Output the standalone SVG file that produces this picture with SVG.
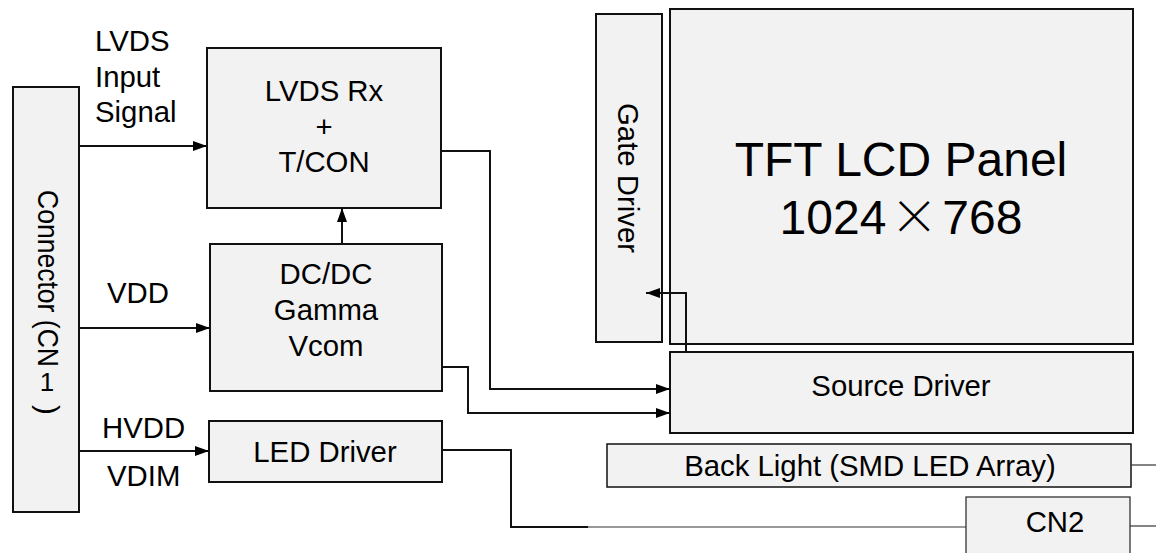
<svg xmlns="http://www.w3.org/2000/svg" width="1156" height="553" viewBox="0 0 1156 553">
<defs>
<style>
.box{fill:#f2f2f2;stroke:#111;stroke-width:2}
.thin{fill:#f2f2f2;stroke:#333;stroke-width:1.3}
text{font-family:"Liberation Sans",Arial,sans-serif;font-size:29.33px;fill:#000}
.c{text-anchor:middle}
.big{font-size:48px}
.wire{fill:none;stroke:#111;stroke-width:2}
.wthin{fill:none;stroke:#333;stroke-width:1.2}
</style>
<marker id="arr" markerUnits="userSpaceOnUse" markerWidth="15" markerHeight="11" refX="14" refY="5" orient="auto">
<path d="M0,0 L14,5 L0,10 z" fill="#000"/>
</marker>
</defs>
<rect width="1156" height="553" fill="#fff"/>

<g id="cn1">
<rect class="box" x="13" y="87" width="66" height="425"/>
<text transform="translate(38,190) rotate(90)" textLength="177" lengthAdjust="spacingAndGlyphs">Connector (CN</text>
<text x="47" y="391" class="c" style="font-size:26px">1</text>
<text transform="translate(38,405) rotate(90)">)</text>
</g>

<g id="labels">
<text x="95" y="51">LVDS</text>
<text x="95" y="87">Input</text>
<text x="95" y="122">Signal</text>
<text x="107" y="303">VDD</text>
<text x="102" y="438">HVDD</text>
<text x="107" y="486">VDIM</text>
</g>

<g id="lvds">
<rect class="box" x="207" y="48" width="234" height="160"/>
<text x="324" y="101" class="c">LVDS Rx</text>
<text x="324" y="137" class="c">+</text>
<text x="324" y="172" class="c">T/CON</text>
</g>

<g id="dcdc">
<rect class="box" x="210" y="244" width="232" height="147"/>
<text x="326" y="284" class="c">DC/DC</text>
<text x="326" y="320" class="c">Gamma</text>
<text x="326" y="356" class="c">Vcom</text>
</g>

<g id="led">
<rect class="box" x="209" y="421" width="233" height="61"/>
<text x="325" y="462" class="c">LED Driver</text>
</g>

<g id="gate">
<rect class="box" x="596" y="14" width="66" height="328"/>
<text transform="translate(618,178) rotate(90)" class="c">Gate Driver</text>
</g>

<g id="panel">
<rect class="box" x="670" y="9" width="463" height="335"/>
<text x="901" y="176" class="c big">TFT LCD Panel</text>
<text x="901" y="234" class="c big">1024<tspan font-family="Noto Sans CJK SC" font-weight="300" dx="4">×</tspan><tspan dx="4">768</tspan></text>
</g>

<g id="source">
<rect class="box" x="670" y="352" width="463" height="81"/>
<text x="901" y="396" class="c">Source Driver</text>
</g>

<g id="backlight">
<rect class="thin" x="607" y="444" width="524" height="43" style="stroke:#111;stroke-width:1.5"/>
<text x="870" y="476" class="c">Back Light (SMD LED Array)</text>
</g>

<g id="cn2">
<rect class="thin" x="966" y="497" width="164" height="70"/>
<text x="1055" y="532" class="c">CN2</text>
</g>

<g id="connectors">
<path class="wire" d="M79,146 H207" marker-end="url(#arr)"/>
<path class="wire" d="M79,328 H210" marker-end="url(#arr)"/>
<path class="wire" d="M79,451 H209" marker-end="url(#arr)"/>
<path class="wire" d="M342,244 V208" marker-end="url(#arr)"/>
<path class="wire" d="M441,151 H490 V389 H670" marker-end="url(#arr)"/>
<path class="wire" d="M441,367 H468 V413 H670" marker-end="url(#arr)"/>
<path class="wire" d="M686,352 V293 H646" marker-end="url(#arr)"/>
<path class="wire" d="M442,450 H511 V527 H588"/>
<path class="wthin" d="M588,527 H966"/>
<path class="wthin" d="M1131,465 H1156"/>
<path class="wthin" d="M1130,526 H1156"/>
</g>
</svg>
